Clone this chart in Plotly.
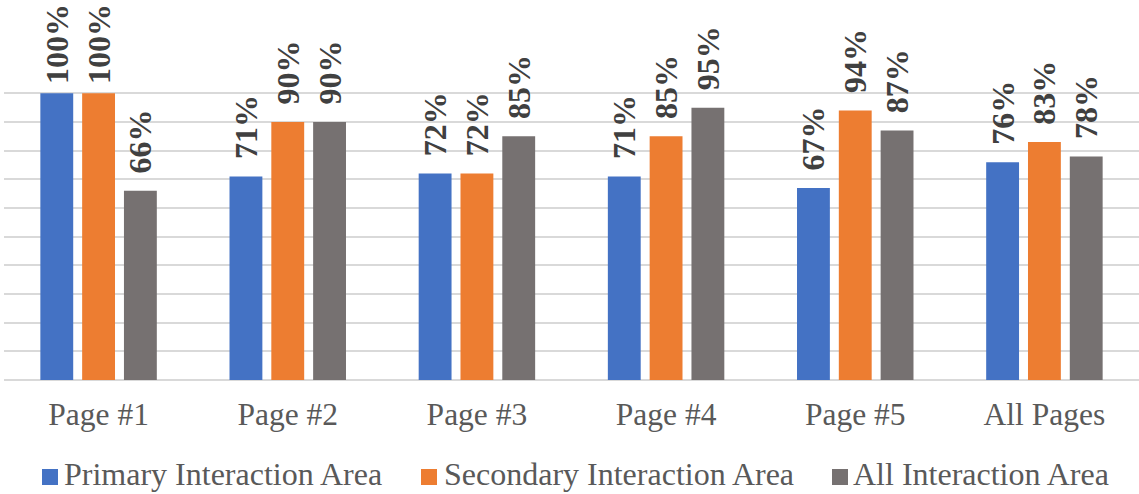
import plotly.graph_objects as go

categories = ["Page #1", "Page #2", "Page #3", "Page #4", "Page #5", "All Pages"]
primary = [100, 71, 72, 71, 67, 76]
secondary = [100, 90, 72, 85, 94, 83]
all_area = [66, 90, 85, 95, 87, 78]

series = [
    ("Primary Interaction Area", primary, "#4472C4"),
    ("Secondary Interaction Area", secondary, "#ED7D31"),
    ("All Interaction Area", all_area, "#767171"),
]

FONT = "Liberation Serif"

# plot-area geometry in pixels
W, H = 1139, 494
ML, MR, MT, MB = 4, 0, 36, 114
PW, PH = W - ML - MR, H - MT - MB


def px_x(x):
    return (x - ML) / PW


def px_y(y):
    return (H - MB - y) / PH


def label(v):
    # rotated value labels share one fixed-length box, centred above the bar
    s = f"{v}%"
    pad = "\u00a0" * max(0, 4 - len(s))
    return "\u2009" + pad + s + pad


fig = go.Figure()
for name, vals, color in series:
    fig.add_trace(go.Bar(
        name=name,
        x=categories,
        y=vals,
        marker=dict(color=color, line=dict(width=0)),
        text=[label(v) for v in vals],
        textposition="outside",
        textangle=-90,
        constraintext="none",
        cliponaxis=False,
        textfont=dict(family=FONT, size=32, color="#404040", weight="bold"),
        showlegend=False,
    ))

# legend drawn as coloured squares followed by the series names
legend_items = [
    (42, 62, series[0]),
    (421, 442, series[1]),
    (832, 851, series[2]),
]
for sq_x, txt_x, (name, _, color) in legend_items:
    fig.add_shape(
        type="rect", xref="paper", yref="paper",
        x0=px_x(sq_x), x1=px_x(sq_x + 16),
        y0=px_y(485), y1=px_y(469),
        fillcolor=color, line=dict(width=0),
    )
    fig.add_annotation(
        text=name, xref="paper", yref="paper",
        x=px_x(txt_x), y=px_y(474),
        xanchor="left", yanchor="middle",
        showarrow=False,
        font=dict(family=FONT, size=32, color="#595959"),
    )

fig.update_layout(
    width=W,
    height=H,
    margin=dict(l=ML, r=MR, t=MT, b=MB),
    plot_bgcolor="white",
    paper_bgcolor="white",
    font=dict(family=FONT),
    barmode="group",
    bargap=0.337,
    bargroupgap=0.214,
    xaxis=dict(
        showgrid=False,
        showline=False,
        zeroline=False,
        ticks="outside",
        ticklen=6,
        tickcolor="rgba(0,0,0,0)",
        tickfont=dict(family=FONT, size=31.5, color="#595959"),
    ),
    yaxis=dict(
        range=[0, 120],
        tickvals=list(range(0, 101, 10)),
        showticklabels=False,
        showgrid=True,
        gridcolor="#D9D9D9",
        gridwidth=2,
        zeroline=True,
        zerolinecolor="#D9D9D9",
        zerolinewidth=2,
    ),
)

fig.write_html("out.html")
